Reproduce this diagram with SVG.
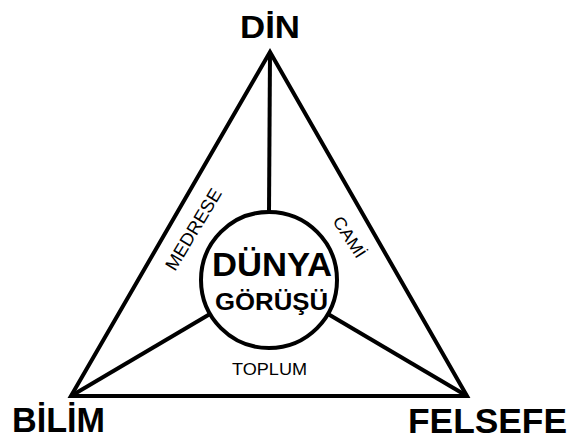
<svg xmlns="http://www.w3.org/2000/svg" width="569" height="439" viewBox="0 0 569 439">
<style>
.ln{stroke:#000;stroke-width:4;fill:none;stroke-linejoin:miter;stroke-miterlimit:10}
.big{font-family:"Liberation Sans",Arial,sans-serif;font-weight:bold;fill:#000}
.lbl{font-family:"Liberation Sans",Arial,sans-serif;fill:#000}
</style>
<rect width="569" height="439" fill="#fff"/>
<g id="connectors">
<polygon class="ln" points="270,52 71,396 467,396"/>
<line class="ln" x1="270" y1="52" x2="269" y2="212"/>
<line class="ln" x1="210" y1="314" x2="71" y2="396"/>
<line class="ln" x1="328" y1="314" x2="467" y2="396"/>
<text class="lbl" font-size="18" textLength="92" lengthAdjust="spacingAndGlyphs" transform="translate(175,272) rotate(-59)">MEDRESE</text>
<text class="lbl" font-size="17" textLength="46" lengthAdjust="spacingAndGlyphs" transform="translate(332,221) rotate(57)">CAMİ</text>
<text class="lbl" font-size="17" x="232" y="375" textLength="75" lengthAdjust="spacingAndGlyphs">TOPLUM</text>
</g>
<g id="node-center">
<circle class="ln" cx="269" cy="280" r="68" fill="#fff"/>
<text class="big" font-size="34" x="212" y="276" textLength="120" lengthAdjust="spacingAndGlyphs">DÜNYA</text>
<text class="big" font-size="24" x="215" y="310" textLength="113" lengthAdjust="spacingAndGlyphs">GÖRÜŞÜ</text>
</g>
<g id="node-din">
<text class="big" font-size="32" x="240" y="38" textLength="60" lengthAdjust="spacingAndGlyphs">DİN</text>
</g>
<g id="node-bilim">
<text class="big" font-size="35" x="12" y="432" textLength="93" lengthAdjust="spacingAndGlyphs">BİLİM</text>
</g>
<g id="node-felsefe">
<text class="big" font-size="35" x="408" y="433" textLength="159" lengthAdjust="spacingAndGlyphs">FELSEFE</text>
</g>
</svg>
